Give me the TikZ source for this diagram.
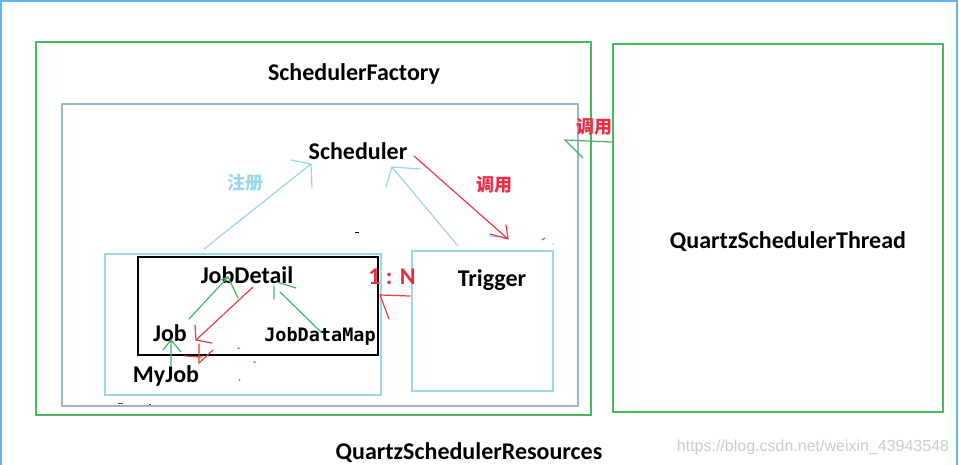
\documentclass[tikz,border=0pt]{standalone}
\usepackage{fontspec}
\setmainfont{Carlito}
\newfontfamily\cjk{Noto Sans CJK SC}
\newfontfamily\monof{DejaVu Sans Mono}
\newfontfamily\wmfont{Liberation Sans}
\definecolor{outerblue}{RGB}{95,185,240}
\definecolor{boxgreen}{RGB}{70,185,95}
\definecolor{slate}{RGB}{160,178,210}
\definecolor{lblue}{RGB}{155,215,235}
\definecolor{arrred}{RGB}{235,60,70}
\definecolor{labred}{RGB}{235,45,70}
\definecolor{arrgreen}{RGB}{70,180,100}
\definecolor{wmgray}{RGB}{205,205,205}
\tikzset{
  box/.style={draw, line width=1.9pt, anchor=north west, inner sep=0pt},
  lab/.style={font=\fontsize{24}{28}\selectfont\bfseries, text=black, inner sep=0pt},
  cjklab/.style={font=\fontsize{18}{22}\selectfont\cjk\bfseries, inner sep=0pt},
  bluearr/.style={draw=lblue, line width=1.2pt, line cap=round},
  redarr/.style={draw=arrred, line width=1.2pt, line cap=round},
  greenarr/.style={draw=arrgreen, line width=1.2pt, line cap=round},
}
\begin{document}
\begin{tikzpicture}[x=1pt,y=-1pt]
\useasboundingbox (0,0) rectangle (959,465);
\fill[white] (0,0) rectangle (959,465);
% outer frame
\draw[outerblue, line width=1.8pt] (1,466) -- (1,1) -- (957,1) -- (957,466);
% boxes
\node[box, draw=boxgreen, minimum width=555pt, minimum height=373pt] (factory) at (35,41) {};
\node[box, draw=slate, minimum width=516pt, minimum height=302pt] (inner) at (61,103) {};
\node[box, draw=boxgreen, minimum width=330pt, minimum height=368pt] (thread) at (612,43) {};
\node[box, draw=lblue, minimum width=276pt, minimum height=141pt] (jdbox) at (104,253) {};
\node[box, draw=black, minimum width=240pt, minimum height=98pt] (black) at (137,256) {};
\node[box, draw=lblue, minimum width=141pt, minimum height=140pt] (trigbox) at (411,250) {};
% labels
\node[lab] (sf) at (354,74) {SchedulerFactory};
\node[lab] (sched) at (358,151) {Scheduler};
\node[cjklab, text=lblue] (reg) at (245,183) {注册};
\node[cjklab, text=labred] (call1) at (494,185) {调用};
\node[cjklab, text=labred] (call2) at (594,127) {调用};
\node[lab] (qst) at (788,242) {QuartzSchedulerThread};
\node[lab] (jd) at (247,275) {JobDetail};
\node[lab] (job) at (170,333) {Job};
\node[font=\fontsize{18.5}{22}\selectfont\monof\bfseries, inner sep=0pt] (jdm) at (320,336) {JobDataMap};
\node[lab] (myjob) at (166,376) {MyJob};
\node[lab, text=labred] (ratio) at (392,277) {1 : N};
\node[lab] (trig) at (492,280) {Trigger};
\node[lab] (qsr) at (469,453) {QuartzSchedulerResources};
\node[font=\fontsize{16}{18}\selectfont\wmfont, text=wmgray, inner sep=0pt] (wm) at (813,447) {https://blog.csdn.net/weixin\_43943548};
% connector coordinates
\coordinate (a0) at (204,249); \coordinate (a1) at (311,164);
\coordinate (a2) at (291,160); \coordinate (a3) at (312,188);
\coordinate (b0) at (458,246); \coordinate (b1) at (392,167);
\coordinate (b2) at (420,169); \coordinate (b3) at (386,187);
\coordinate (c0) at (414,156); \coordinate (c1) at (508,239);
\coordinate (c2) at (506,225); \coordinate (c3) at (490,234);
\coordinate (d0) at (612,142); \coordinate (d1) at (565,140);
\coordinate (d2) at (583,158);
\coordinate (e0) at (410,296); \coordinate (e1) at (380,295);
\coordinate (e2) at (389,319);
\coordinate (f0) at (189,319); \coordinate (f1) at (228,277);
\coordinate (f2) at (238,298); \coordinate (f3) at (221,280);
\coordinate (g0) at (253,287); \coordinate (g1) at (196,340);
\coordinate (g2) at (195,325); \coordinate (g3) at (212,343);
\coordinate (h0) at (322,333); \coordinate (h1) at (280,292);
\coordinate (h2) at (274,286); \coordinate (h3) at (274,299);
\coordinate (h4) at (277,282); \coordinate (h5) at (296,288);
\coordinate (i0) at (171,366); \coordinate (i1) at (171,340);
\coordinate (i2) at (163,350); \coordinate (i3) at (181,352);
% JobDetail group -> Scheduler (register)
\draw[bluearr] (a0) -- (a1) (a2) -- (a1) (a1) -- (a3);
% Trigger -> Scheduler
\draw[bluearr] (b0) -- (b1) -- (b2) (b1) -- (b3);
\draw[bluearr] (490,236) -- (505,237);
% Scheduler -> Trigger (call)
\draw[redarr] (c0) -- (c1) (c2) -- (c1) (c3) -- (c1);
% Thread -> factory (call)
\draw[greenarr] (d0) -- (d1) -- (d2);
% Trigger -> JobDetail (1:N)
\draw[redarr] (e0) -- (e1) -- (e2);
% Job -> JobDetail
\draw[greenarr] (f0) -- (f1) -- (f2) (f1) -- (f3);
% JobDetail -> Job
\draw[redarr] (g0) -- (g1) (g2) -- (g1) -- (g3);
\draw[redarr] (185,356) -- (202,357) (199,344) -- (199,363) -- (213,350);
% JobDataMap -> JobDetail
\draw[greenarr] (h0) -- (h1) (h2) -- (h3) (h4) -- (h5);
% MyJob -> Job
\draw[greenarr] (i0) -- (i1) -- (i2) (i1) -- (i3);
% small stray marks
\draw[black, line width=1pt] (355,233) -- (359,233);
\draw[arrred, line width=1pt] (237,348) -- (240,348) (253,362) -- (256,362) (542,240) -- (545,238);
\draw[arrgreen, line width=1pt] (239,379) -- (240,381);
\draw[lblue, line width=1pt] (553,243) -- (553,245);
\draw[black!70, line width=1pt] (118,403) -- (123,403) (149,404) -- (151,404);
\end{tikzpicture}
\end{document}
